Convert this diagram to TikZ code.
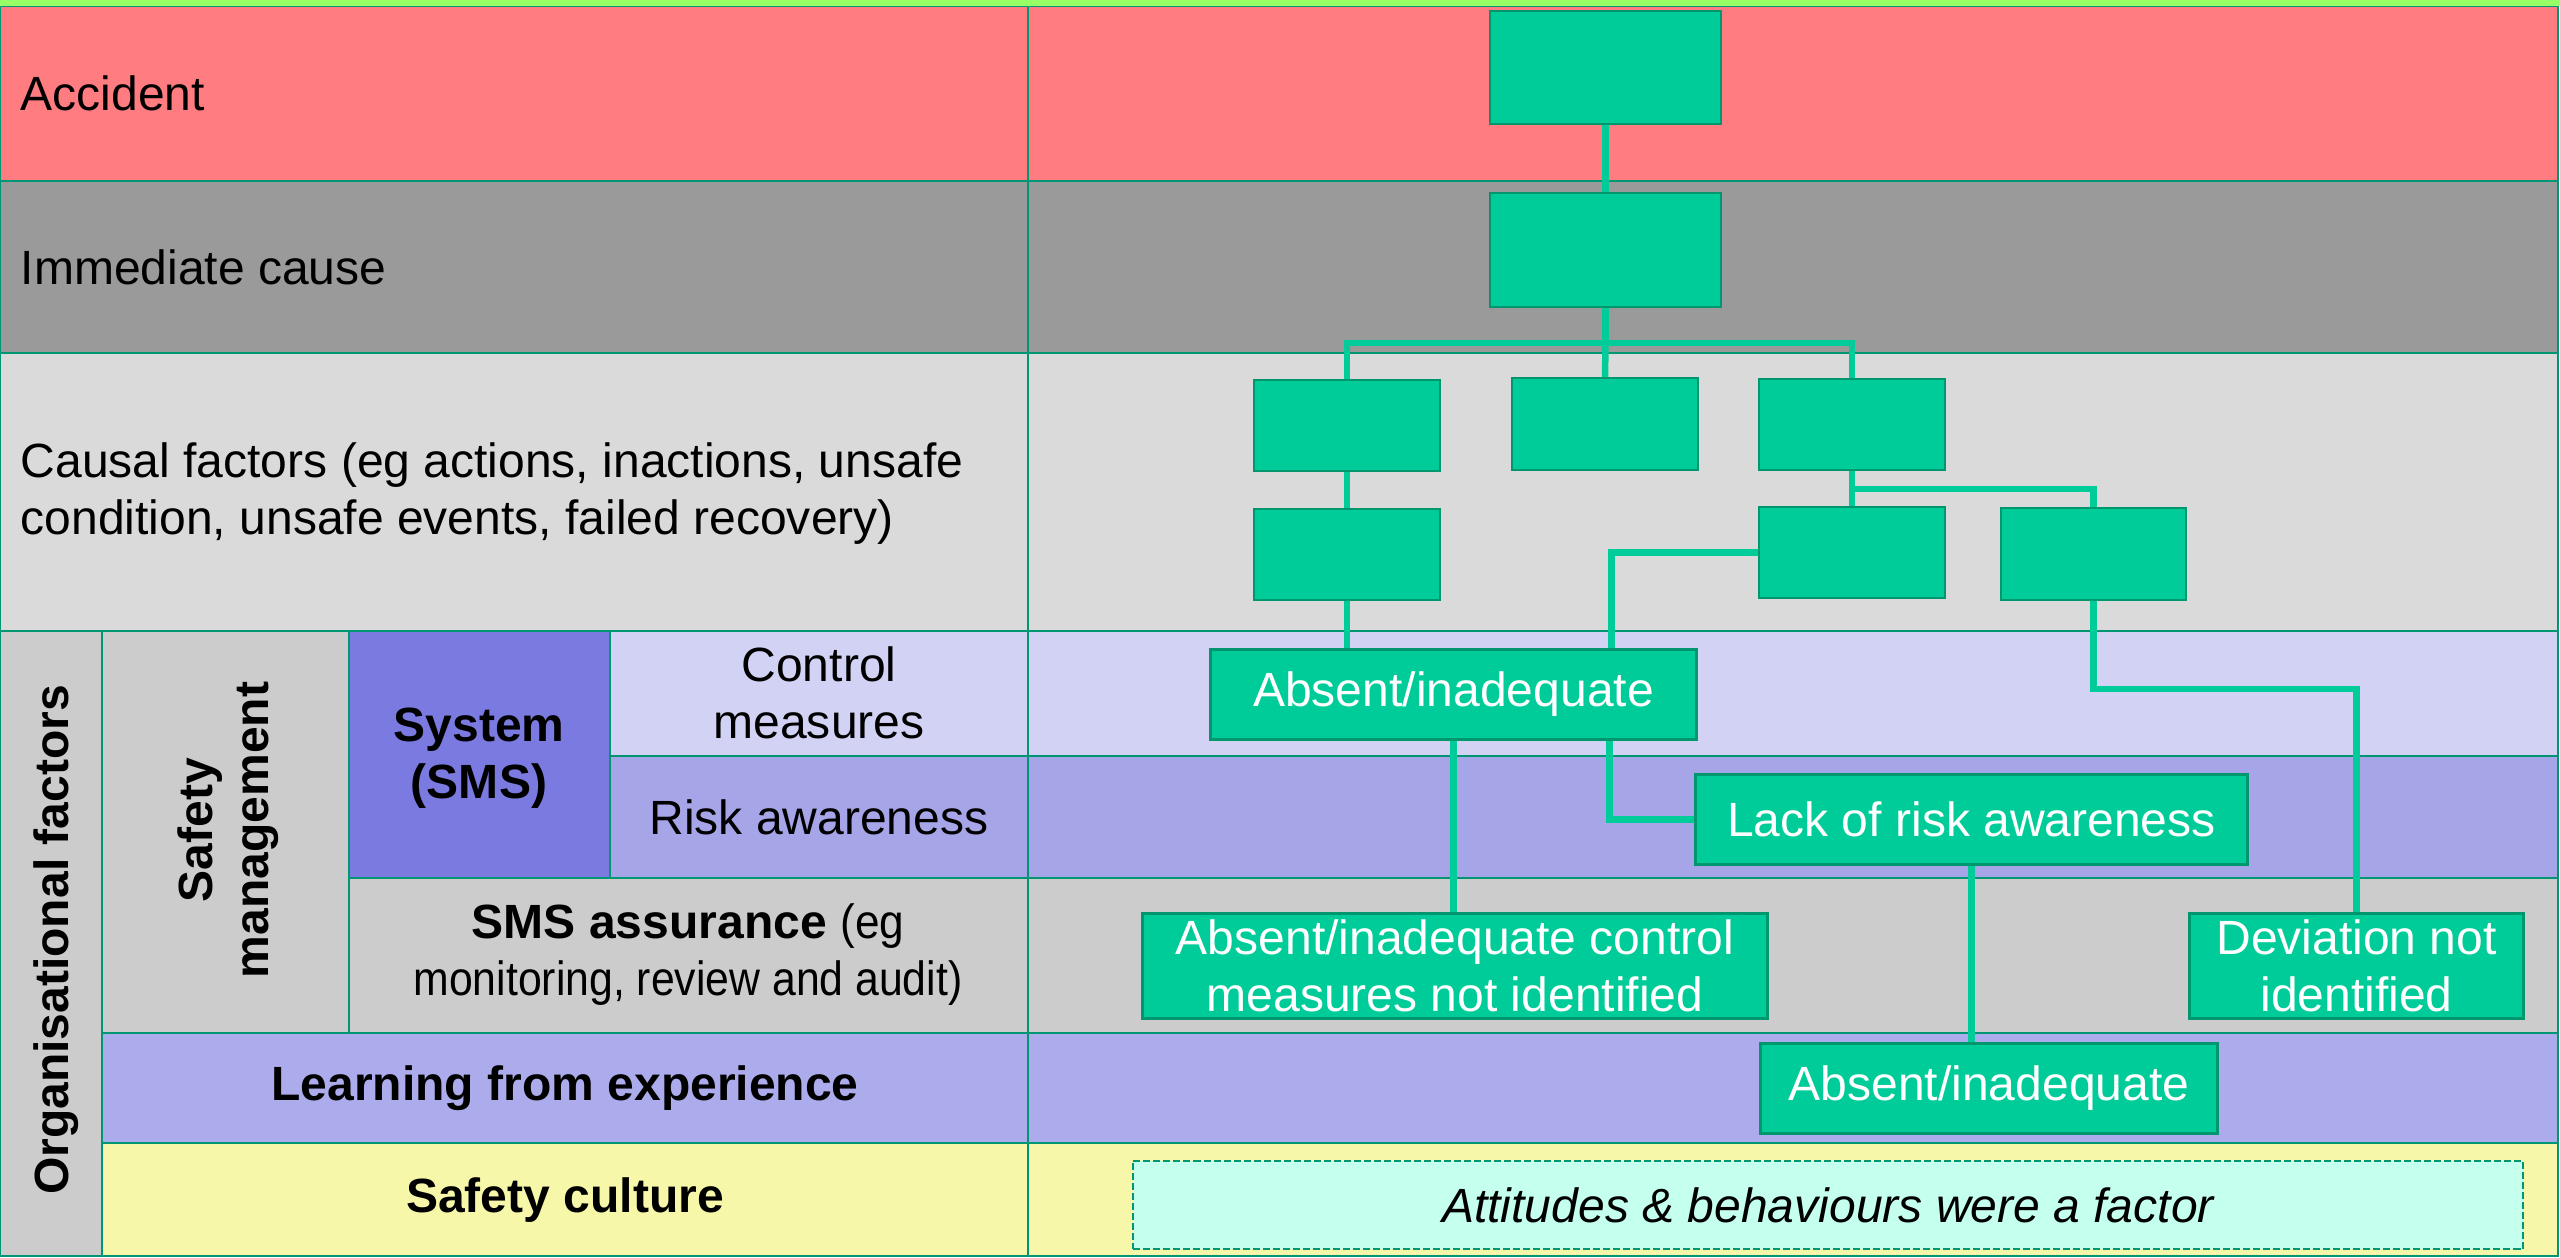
\documentclass[tikz,border=0pt]{standalone}
\usepackage{fontspec}
\usepackage{graphicx}
\setmainfont{Liberation Sans}
\usetikzlibrary{calc}
\definecolor{accred}{RGB}{255,124,128}
\definecolor{immgray}{RGB}{154,154,154}
\definecolor{causgray}{RGB}{218,218,218}
\definecolor{orggray}{RGB}{204,204,204}
\definecolor{sysblue}{RGB}{122,122,224}
\definecolor{ctllav}{RGB}{210,210,244}
\definecolor{risklav}{RGB}{165,165,232}
\definecolor{learnlav}{RGB}{172,172,236}
\definecolor{cultyel}{RGB}{247,247,170}
\definecolor{topgreen}{RGB}{153,255,102}
\definecolor{gridgreen}{RGB}{0,150,115}
\definecolor{boxgreen}{RGB}{0,204,153}
\definecolor{boxedge}{RGB}{0,150,110}
\definecolor{attfill}{RGB}{197,255,238}
\begin{document}
\begin{tikzpicture}[x=0.01cm, y=-0.01cm,
  font=\fontsize{13.66}{16.2}\selectfont,
  cell/.style={draw=gridgreen, line width=0.025cm},
  conn/.style={draw=boxgreen, line width=0.065cm},
  gbox/.style={draw=boxedge, fill=boxgreen, line width=0.022cm, text=white, inner sep=0pt, align=center},
  lbl/.style={inner sep=0pt, align=center, text=black},
  lbll/.style={inner sep=0pt, align=left, anchor=west, text=black},
]
\useasboundingbox (0,0) rectangle (2560,1257);
% ---- left cells
\draw[cell, fill=accred]   (0,6)    rectangle (1028,181);
\draw[cell, fill=immgray]  (0,181)  rectangle (1028,353);
\draw[cell, fill=causgray] (0,353)  rectangle (1028,631);
\draw[cell, fill=orggray]  (0,631)  rectangle (102,1256);
\draw[cell, fill=orggray]  (102,631) rectangle (349,1033);
\draw[cell, fill=sysblue]  (349,631) rectangle (610,878);
\draw[cell, fill=ctllav]   (610,631) rectangle (1028,756);
\draw[cell, fill=risklav]  (610,756) rectangle (1028,878);
\draw[cell, fill=orggray]  (349,878) rectangle (1028,1033);
\draw[cell, fill=learnlav] (102,1033) rectangle (1028,1143);
\draw[cell, fill=cultyel]  (102,1143) rectangle (1028,1256);
% ---- right cells
\draw[cell, fill=accred]   (1028,6)    rectangle (2558,181);
\draw[cell, fill=immgray]  (1028,181)  rectangle (2558,353);
\draw[cell, fill=causgray] (1028,353)  rectangle (2558,631);
\draw[cell, fill=ctllav]   (1028,631)  rectangle (2558,756);
\draw[cell, fill=risklav]  (1028,756)  rectangle (2558,878);
\draw[cell, fill=orggray]  (1028,878)  rectangle (2558,1033);
\draw[cell, fill=learnlav] (1028,1033) rectangle (2558,1143);
\draw[cell, fill=cultyel]  (1028,1143) rectangle (2558,1256);
\fill[topgreen] (0,0) rectangle (2560,6);
% ---- left labels
\node[lbll] (tAcc) at (20,93) {Accident};
\node[lbll] (tImm) at (20,267) {Immediate cause};
\node[lbll] (tCaus) at (20,494) {Causal factors (eg actions, inactions, unsafe\\condition, unsafe events, failed recovery)};
\node[lbl, rotate=90, font=\fontsize{13.66}{16.2}\selectfont\bfseries] (tOrg) at (56,940) {Organisational factors};
\node[lbl, rotate=90, font=\fontsize{13.66}{16}\selectfont\bfseries] (tSM) at (228,830) {Safety\\management};
\node[lbl, font=\fontsize{13.66}{16.2}\selectfont\bfseries] (tSys) at (479,758) {System\\(SMS)};
\node[lbl] (tCtl) at (819,693) {Control\\measures};
\node[lbl] (tRisk) at (819,817) {Risk awareness};
\node[lbl] (tAss) at (688,955) {\textbf{SMS assurance} \scalebox{0.92}[1]{(eg}\\\scalebox{0.89}[1]{monitoring, review and audit)}};
\node[lbl, font=\fontsize{13.66}{16.2}\selectfont\bfseries] (tLearn) at (565,1088) {Learning from experience};
\node[lbl, font=\fontsize{13.66}{16.2}\selectfont\bfseries] (tCult) at (565,1200) {Safety culture};
% ---- green boxes
\node[gbox, minimum width=2.29cm, minimum height=1.11cm] (nA) at (1605.5,67.5) {};
\node[gbox, minimum width=2.29cm, minimum height=1.12cm] (nB) at (1605.5,250) {};
\node[gbox, minimum width=1.84cm, minimum height=0.89cm] (nC1) at (1347,425.5) {};
\node[gbox, minimum width=1.84cm, minimum height=0.90cm] (nC2) at (1605,424) {};
\node[gbox, minimum width=1.84cm, minimum height=0.89cm] (nC3) at (1852,424.5) {};
\node[gbox, minimum width=1.84cm, minimum height=0.89cm] (nC4) at (1347,554.5) {};
\node[gbox, minimum width=1.84cm, minimum height=0.89cm] (nC5) at (1852,552.5) {};
\node[gbox, minimum width=1.83cm, minimum height=0.90cm] (nC6) at (2093.5,554) {};
\node[gbox, minimum width=4.85cm, minimum height=0.89cm] (nD1) at (1453.5,694.5) {Absent/inadequate};
\node[gbox, minimum width=5.51cm, minimum height=0.89cm] (nD2) at (1971.5,819.5) {Lack of risk awareness};
\node[gbox, minimum width=6.24cm, minimum height=1.04cm] (nD3) at (1455,966) {Absent/inadequate control\\measures not identified};
\node[gbox, minimum width=3.33cm, minimum height=1.04cm] (nD4) at (2356.5,966) {Deviation not\\identified};
\node[gbox, minimum width=4.56cm, minimum height=0.89cm] (nD5) at (1989,1088.5) {Absent/inadequate};
\node[draw=gridgreen, fill=attfill, dashed, dash pattern=on 0.07cm off 0.03cm, line width=0.02cm, minimum width=13.9cm, minimum height=0.88cm, inner sep=0pt, font=\fontsize{13.66}{16.2}\selectfont\itshape] (nE) at (1828,1205) {Attitudes \& behaviours were a factor};
% ---- connectors
\coordinate (j1) at (1605.5,343);
\coordinate (j2) at (1852,489);
\coordinate (y689) at (0,689);
\begin{scope}[on background layer/.style={}]
\end{scope}
\draw[conn] (nA.south) -- (nB.north);
\draw[conn] (nB.south) -- (j1);
\draw[conn] (j1) -| (nC1.north);
\draw[conn] (j1) -| (nC3.north);
\draw[conn] (j1) -- (nC2.north);
\draw[conn] (nC1.south) -- (nC4.north);
\draw[conn] (nC3.south) -- (nC5.north);
\draw[conn] (j2) -| (nC6.north);
\draw[conn] (nC4.south) -- (nC4.south |- nD1.north);
\draw[conn] (nC5.west) -| ([xshift=1.58cm]nD1.north);
\draw[conn] ([xshift=1.56cm]nD1.south) |- (nD2.west);
\draw[conn] (nD1.south) -- (nD1.south |- nD3.north);
\draw[conn] (nC6.south) -- (nC6.south |- y689) -| (nD4.north);
\draw[conn] (nD2.south) -- (nD2.south |- nD5.north);
% redraw boxes on top of connectors
\foreach \n in {nA,nB,nC1,nC2,nC3,nC4,nC5,nC6}{
  \draw[boxedge, fill=boxgreen, line width=0.022cm] (\n.south west) rectangle (\n.north east);
}
\foreach \n in {nD1,nD2,nD3,nD4,nD5}{
  \draw[boxedge, line width=0.022cm] (\n.south west) rectangle (\n.north east);
}
\end{tikzpicture}
\end{document}
